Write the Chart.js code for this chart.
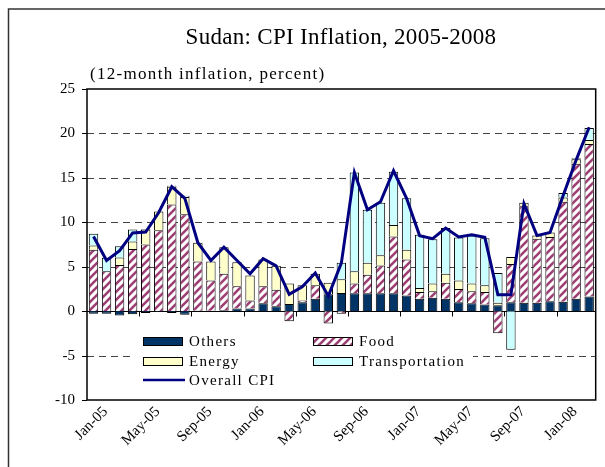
<!DOCTYPE html>
<html><head><meta charset="utf-8">
<script src="https://cdn.jsdelivr.net/npm/chart.js@4.4.0/dist/chart.umd.min.js"></script>
<style>html,body{margin:0;padding:0;background:#fff;overflow:hidden}canvas{display:block}</style>
</head><body>
<canvas id="c" width="605" height="467"></canvas>
<script>
const months = ["Jan-05","Feb-05","Mar-05","Apr-05","May-05","Jun-05","Jul-05","Aug-05","Sep-05","Oct-05","Nov-05","Dec-05",
"Jan-06","Feb-06","Mar-06","Apr-06","May-06","Jun-06","Jul-06","Aug-06","Sep-06","Oct-06","Nov-06","Dec-06",
"Jan-07","Feb-07","Mar-07","Apr-07","May-07","Jun-07","Jul-07","Aug-07","Sep-07","Oct-07","Nov-07","Dec-07",
"Jan-08","Feb-08","Mar-08"];
const others = [-0.3,-0.3,-0.5,-0.35,-0.2,-0.1,-0.2,-0.4,0.05,0.05,0.1,0.3,0.3,
0.9,0.55,0.8,1.0,1.4,1.9,2.05,2.0,2.0,2.0,2.0,1.75,1.4,
1.5,1.4,1.0,0.9,0.75,0.65,1.0,0.95,0.95,1.1,1.05,1.4,1.65];
const food = [6.9,4.5,5.2,7.0,7.5,9.1,12.0,10.9,5.55,3.4,4.1,2.5,0.9,
1.9,1.85,-1.15,0.2,1.5,-1.4,-0.3,1.1,2.1,3.15,6.4,4.05,0.75,
0.75,1.8,1.5,1.35,1.4,-2.5,4.3,10.85,7.2,7.25,11.25,15.2,17.15];
const energy = [0.5,0,0.85,0.85,1.7,2.1,2.0,1.95,2.1,2.15,3.0,2.7,2.8,
3.0,2.7,2.3,1.7,1.3,1.3,1.55,1.4,1.35,1.15,1.3,1.1,0.45,
0.85,1.0,0.95,0.85,0.75,0.3,0.8,0.4,0.35,0.5,0.5,0.5,0.45];
const transport = [1.3,1.5,1.25,1.35,0.05,0,0.1,0.15,0,0,0,0,0,
0,0,0,0,0,0,1.85,11.1,5.95,5.9,6.0,5.8,6.0,
5.0,5.15,4.85,5.4,5.3,3.35,-4.35,0,0,0,0.5,0.1,1.35];
const overallCPI = [8.4,5.7,6.8,8.8,8.9,11.1,14.0,12.7,7.7,5.7,7.2,5.7,4.2,
5.9,5.1,1.9,2.75,4.3,1.7,5.4,15.6,11.4,12.3,15.8,12.7,8.5,
8.15,9.35,8.35,8.6,8.3,1.85,1.85,12.1,8.5,8.85,13.0,17.0,20.7];
const yTicks = [-10,-5,0,5,10,15,20,25];
const titleText = "Sudan: CPI Inflation, 2005-2008";
const subtitleText = "(12-month inflation, percent)";

const FONT = "'Liberation Serif','Times New Roman',serif";
const canvas = document.getElementById('c');
const ctx0 = canvas.getContext('2d');
function makeHatch(){
  const c = document.createElement('canvas'); c.width = 8; c.height = 8;
  const g = c.getContext('2d');
  g.fillStyle = '#ffffff'; g.fillRect(0,0,8,8);
  g.strokeStyle = '#9E3F74'; g.lineWidth = 2.6;
  g.beginPath();
  g.moveTo(-2,10); g.lineTo(10,-2);
  g.moveTo(-2,2); g.lineTo(2,-2);
  g.moveTo(6,10); g.lineTo(10,6);
  g.stroke();
  return ctx0.createPattern(c,'repeat');
}
const hatch = makeHatch();
const nz = a => a.map(v => v === 0 ? null : v);

const COL = {others:'#003366', energy:'#FFFFCC', transport:'#CCFFFF', line:'#000080'};

const decor = {
  id:'decor',
  beforeDraw(chart){
    const c = chart.ctx;
    c.save();
    c.fillStyle = '#fff'; c.fillRect(0,0,chart.width,chart.height);
    c.strokeStyle = '#333'; c.lineWidth = 1.5;
    c.beginPath(); c.moveTo(8.5,470); c.lineTo(8.5,9); c.lineTo(610,9); c.stroke();
    c.restore();
  },
  beforeDatasetsDraw(chart){
    const c = chart.ctx, a = chart.chartArea, y = chart.scales.y, x = chart.scales.x;
    c.save();
    c.strokeStyle = '#444'; c.lineWidth = 1;
    c.setLineDash([7,5]);
    yTicks.forEach(v => {
      if (v === 0 || v === y.min || v === y.max) return;
      const py = Math.round(y.getPixelForValue(v)) + 0.5;
      c.beginPath(); c.moveTo(a.left, py); c.lineTo(a.right, py); c.stroke();
    });
    c.setLineDash([]);
    c.strokeStyle = '#000';
    const z = Math.round(y.getPixelForValue(0)) + 0.5;
    c.beginPath(); c.moveTo(a.left, z); c.lineTo(a.right, z); c.stroke();
    for (let i = 4; i < months.length; i += 4){
      const px = Math.round((x.getPixelForValue(i-1) + x.getPixelForValue(i))/2) + 0.5;
      c.beginPath(); c.moveTo(px, z); c.lineTo(px, z + 5); c.stroke();
    }
    yTicks.forEach(v => {
      const py = Math.round(y.getPixelForValue(v)) + 0.5;
      c.beginPath(); c.moveTo(a.left - 5, py); c.lineTo(a.left, py); c.stroke();
    });
    c.restore();
  },
  afterDatasetsDraw(chart){
    const c = chart.ctx, a = chart.chartArea;
    c.save();
    c.strokeStyle = '#000'; c.lineWidth = 1.5;
    c.strokeRect(a.left, a.top, a.right - a.left, a.bottom - a.top);
    c.fillStyle = '#fff'; c.fillRect(133, 330, 340, 60);
    const ds = chart.data.datasets;
    const items = [
      {i:0, x:143, y:341}, {i:1, x:313, y:341},
      {i:2, x:143, y:361}, {i:3, x:313, y:361}
    ];
    c.lineWidth = 1;
    c.letterSpacing = '1.3px';
    items.forEach(it => {
      const d = ds[it.i];
      c.fillStyle = d.backgroundColor;
      c.fillRect(it.x, it.y - 4, 39, 8);
      c.strokeStyle = '#000';
      c.strokeRect(it.x + 0.5, it.y - 3.5, 39, 8);
      c.fillStyle = '#000'; c.font = '15px ' + FONT;
      c.textBaseline = 'middle'; c.textAlign = 'left';
      c.fillText(d.label, it.x + 46, it.y + 1);
    });
    const L = ds[4];
    c.strokeStyle = L.borderColor; c.lineWidth = 2.5;
    c.beginPath(); c.moveTo(143, 380); c.lineTo(185, 380); c.stroke();
    c.fillStyle = '#000'; c.font = '15px ' + FONT;
    c.fillText(L.label, 189, 381);
    c.textAlign = 'center'; c.textBaseline = 'alphabetic';
    c.letterSpacing = '0.3px';
    c.font = '23px ' + FONT;
    c.fillText(titleText, 341, 44);
    c.textAlign = 'left';
    c.letterSpacing = '1.3px';
    c.font = '17px ' + FONT;
    c.fillText(subtitleText, 90, 79);
    c.restore();
  }
};

new Chart(canvas, {
  type:'bar',
  data:{
    labels: months,
    datasets:[
      {label:'Others', data:nz(others), backgroundColor:COL.others, borderColor:'#000', borderWidth:1, order:1},
      {label:'Food', data:nz(food), backgroundColor:hatch, borderColor:'#000', borderWidth:1, order:1},
      {label:'Energy', data:nz(energy), backgroundColor:COL.energy, borderColor:'#000', borderWidth:1, order:1},
      {label:'Transportation', data:nz(transport), backgroundColor:COL.transport, borderColor:'#000', borderWidth:1, order:1},
      {type:'line', label:'Overall CPI', data:overallCPI, borderColor:COL.line, backgroundColor:COL.line, borderWidth:3, pointRadius:0, tension:0, yAxisID:'y2', order:0}
    ]
  },
  options:{
    responsive:false, animation:false, devicePixelRatio:1,
    layout:{padding:{top:89, right:8, left:0, bottom:0}},
    datasets:{bar:{barPercentage:0.72, categoryPercentage:1}},
    plugins:{legend:{display:false}, tooltip:{enabled:false}, title:{display:false}},
    scales:{
      x:{stacked:true, grid:{display:false, drawTicks:false}, border:{display:false},
         ticks:{autoSkip:false, maxRotation:45, minRotation:45, color:'#000', padding:3, labelOffset:12,
           font:{family:FONT, size:15},
           callback:function(v,i){ return i % 4 === 0 ? months[i] : ''; }},
         afterFit:s => { s.height = 67; }},
      y:{stacked:true, min:-10, max:25, grid:{display:false, drawTicks:false}, border:{display:false},
         ticks:{stepSize:5, color:'#000', padding:12, font:{family:FONT, size:15}},
         afterFit:s => { s.width = 87; }},
      y2:{display:false, min:-10, max:25, stacked:false}
    }
  },
  plugins:[decor]
});
</script>
</body></html>
